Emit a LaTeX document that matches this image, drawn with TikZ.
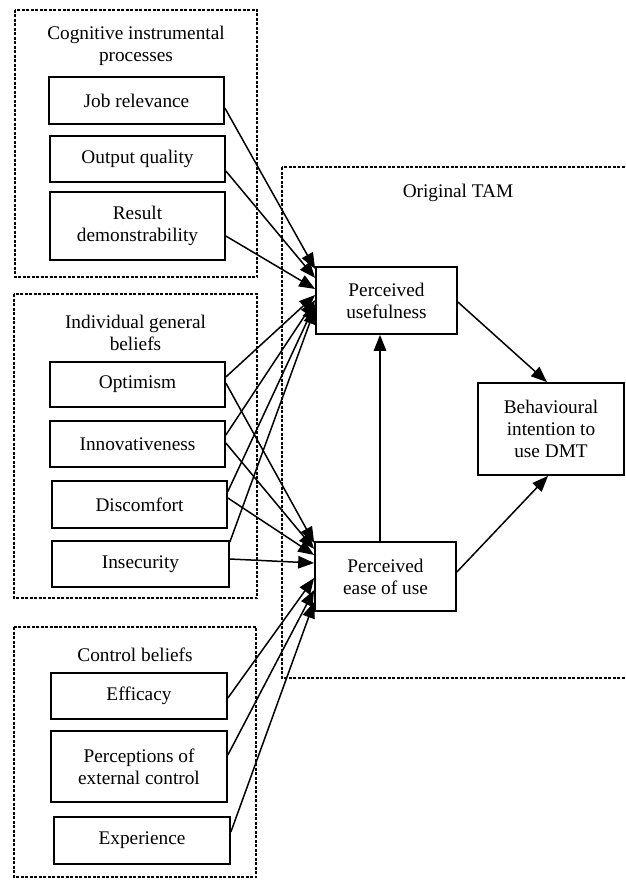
\documentclass[tikz,border=0pt]{standalone}
\usepackage{fontspec}
\setmainfont{Liberation Serif}
\usetikzlibrary{arrows.meta,calc}
\begin{document}
\begin{tikzpicture}[x=1pt,y=-1pt,
  box/.style={draw, line width=1.7pt, inner sep=0pt, align=center, font=\fontsize{19.3}{22}\selectfont},
  grp/.style={draw, line width=1.4pt, dash pattern=on 3pt off 1.5pt},
  lbl/.style={align=center, inner sep=0pt, font=\fontsize{19.3}{22}\selectfont},
  arr/.style={line width=1.5pt, -{Triangle[length=16pt,width=12.5pt]}}]
\useasboundingbox (0,0) rectangle (625,880);
\fill[white] (0,0) rectangle (625,880);

% group frames
\draw[grp] (15,10) rectangle (257,277);
\draw[grp] (14,294) rectangle (257,598);
\draw[grp] (14,627) rectangle (256,877);
\draw[grp] (282,167) rectangle (660,678);

% group titles
\node[lbl] (t1) at (136,46) {Cognitive instrumental\\processes};
\node[lbl] (t2) at (135.5,332.5) {Individual general\\beliefs};
\node[lbl] (t3) at (135,655) {Control beliefs};
\node[lbl] (t4) at (458,193) {Original TAM};

% left boxes
\node[box, minimum width=175pt, minimum height=47pt] (jr) at (136.5,100.5) {Job relevance};
\node[box, minimum width=175pt, minimum height=46pt] (oq) at (137.5,159) {Output quality};
\node[box, minimum width=175pt, minimum height=68pt] (rd) at (137.5,226) {Result\\demonstrability};

\node[box, minimum width=175pt, minimum height=45pt] (op) at (137.5,384.5) {Optimism};
\node[box, minimum width=175pt, minimum height=46pt] (in) at (137.5,444) {Innovativeness};
\node[box, minimum width=175pt, minimum height=47pt] (di) at (139.5,504.5) {Discomfort};
\node[box, minimum width=177pt, minimum height=46pt] (is) at (140.5,564) {Insecurity};

\node[box, minimum width=176pt, minimum height=46pt] (ef) at (139,696) {Efficacy};
\node[box, minimum width=176pt, minimum height=71pt] (pe) at (139,766.5) {Perceptions of\\external control};
\node[box, minimum width=176pt, minimum height=47pt] (ex) at (142,840.5) {Experience};

% TAM boxes
\node[box, minimum width=141pt, minimum height=67pt] (pu) at (386.5,300.5) {Perceived\\usefulness};
\node[box, minimum width=141pt, minimum height=69pt] (pq) at (385.5,576.5) {Perceived\\ease of use};
\node[box, minimum width=146pt, minimum height=92pt] (bi) at (551,429) {Behavioural\\intention to\\use DMT};

% arrows into PU
\draw[arr] ([yshift=-7.5pt]jr.east) -- ([yshift=31.5pt]pu.west);
\draw[arr] ([yshift=-12pt]oq.east) -- ([yshift=22.5pt]pu.west);
\draw[arr] ([yshift=-10pt]rd.east) -- ([yshift=11.5pt]pu.west);
\draw[arr] ([yshift=7.5pt]op.east) -- ([yshift=5.5pt]pu.west);
\draw[arr] ([yshift=9pt]in.east) -- ([yshift=0.5pt]pu.west);
\draw[arr] ([yshift=13pt]di.east) -- ([yshift=-3.5pt]pu.west);
\draw[arr] ([yshift=22pt]is.east) -- ([yshift=-7.5pt]pu.west);

% arrows into PEOU
\draw[arr] ([yshift=1.5pt]op.east) -- ([yshift=33.5pt]pq.west);
\draw[arr] ([yshift=1pt]in.east) -- ([yshift=27.5pt]pq.west);
\draw[arr] ([yshift=6.5pt]di.east) -- ([yshift=21.5pt]pq.west);
\draw[arr] ([yshift=5pt]is.east) -- ([yshift=13.5pt]pq.west);
\draw[arr] ([yshift=-2pt]ef.east) -- ([yshift=-1.5pt]pq.west);
\draw[arr] ([yshift=11.5pt]pe.east) -- ([yshift=-13.5pt]pq.west);
\draw[arr] ([yshift=8.5pt]ex.east) -- ([yshift=-25.5pt]pq.west);

% TAM arrows
\draw[arr] ([yshift=-1.5pt]pu.east) -- ([xshift=-4pt]bi.north);
\draw[arr] ([yshift=4.5pt]pq.east) -- ([xshift=-3pt]bi.south);
\draw[arr] ([xshift=-5.5pt]pq.north) -- ([xshift=-6.5pt]pu.south);
\end{tikzpicture}
\end{document}
